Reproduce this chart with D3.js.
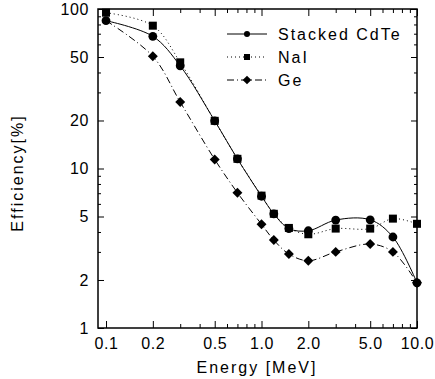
<!DOCTYPE html>
<html>
<head>
<meta charset="utf-8">
<script src="https://cdn.jsdelivr.net/npm/d3@7"></script>
<style>
  body { margin: 0; background: #fff; }
  svg { display: block; font-family: "Liberation Sans", Arial, sans-serif; }
  .tick text { font-size: 16px; letter-spacing: 0.6px; fill: #000; }
  .domain { display: none; }
</style>
</head>
<body>
<svg id="chart" width="435" height="379"></svg>
<script>
// Data
const energy = [0.1, 0.2, 0.3, 0.5, 0.7, 1.0, 1.2, 1.5, 2.0, 3.0, 5.0, 7.0, 10.0];
const cdte = [84.5, 67.4, 44, 19.9, 11.5, 6.7, 5.2, 4.2, 4.07, 4.75, 4.77, 3.72, 1.92];
const nai = [94.8, 78.6, 46.3, 19.9, 11.5, 6.76, 5.2, 4.24, 3.87, 4.2, 4.2, 4.85, 4.5];
const ge = [84.5, 50.5, 26.1, 11.4, 7.05, 4.47, 3.56, 2.91, 2.64, 3.0, 3.36, 3.0, 1.92];
const geMarkerFrom = 1; // Ge marker at 0.1 sits under the CdTe circle

const xMajor = [0.1, 0.2, 0.5, 1, 2, 5, 10];
const xMinor = [0.3, 0.4, 0.6, 0.7, 0.8, 0.9, 3, 4, 6, 7, 8, 9];
const yMajor = [1, 2, 5, 10, 20, 50, 100];
const yMinor = [3, 4, 6, 7, 8, 9, 30, 40, 60, 70, 80, 90];

const series = [
  { name: 'Stacked CdTe', values: cdte, dash: null, marker: 'circle' },
  { name: 'NaI', values: nai, dash: '1,3', marker: 'square' },
  { name: 'Ge', values: ge, dash: '7,3,1,3', marker: 'diamond' },
];

const svg = d3.select('#chart');
const pL = 98, pR = 417, pT = 9, pB = 328;

const x = d3.scaleLog().domain([0.0888, 10]).range([pL, pR]);
const y = d3.scaleLog().domain([1, 100]).range([pB, pT]);

// markers
const marker = (g, type, cx, cy, s) => {
  if (type === 'circle') {
    g.append('circle').attr('cx', cx).attr('cy', cy).attr('r', s * 0.55).attr('fill', '#000');
  } else if (type === 'square') {
    const h = s * 0.5;
    g.append('rect').attr('x', cx - h).attr('y', cy - h).attr('width', 2 * h).attr('height', 2 * h).attr('fill', '#000');
  } else {
    const h = s * 0.62;
    g.append('path').attr('d', `M${cx},${cy - h}L${cx + h},${cy}L${cx},${cy + h}L${cx - h},${cy}Z`).attr('fill', '#000');
  }
};

// axes: ticks point inward on all four sides
const fmtX = d => d < 1 ? String(d) : d3.format('.1f')(d);

svg.append('g').attr('transform', `translate(0,${pB})`)
  .call(d3.axisBottom(x).tickValues(xMajor).tickSize(-7).tickPadding(10).tickFormat(fmtX));
svg.append('g').attr('transform', `translate(0,${pB})`)
  .call(d3.axisBottom(x).tickValues(xMinor).tickSize(-4).tickFormat(''));
svg.append('g').attr('transform', `translate(0,${pT})`)
  .call(d3.axisTop(x).tickValues(xMajor).tickSize(-7).tickFormat(''));
svg.append('g').attr('transform', `translate(0,${pT})`)
  .call(d3.axisTop(x).tickValues(xMinor).tickSize(-4).tickFormat(''));

svg.append('g').attr('transform', `translate(${pL},0)`)
  .call(d3.axisLeft(y).tickValues(yMajor).tickSize(-6).tickPadding(9).tickFormat(d3.format('d')));
svg.append('g').attr('transform', `translate(${pL},0)`)
  .call(d3.axisLeft(y).tickValues(yMinor).tickSize(-3).tickFormat(''));
svg.append('g').attr('transform', `translate(${pR},0)`)
  .call(d3.axisRight(y).tickValues(yMajor).tickSize(-6).tickFormat(''));
svg.append('g').attr('transform', `translate(${pR},0)`)
  .call(d3.axisRight(y).tickValues(yMinor).tickSize(-3).tickFormat(''));

svg.selectAll('.tick line').attr('stroke', '#000').attr('stroke-width', 1);

// frame
svg.append('rect')
  .attr('x', pL).attr('y', pT).attr('width', pR - pL).attr('height', pB - pT)
  .attr('fill', 'none').attr('stroke', '#000').attr('stroke-width', 1.5);

// curves
const line = d3.line()
  .x(d => x(d[0])).y(d => y(d[1]))
  .curve(d3.curveCatmullRom.alpha(0.5));

const plot = svg.append('g');
series.forEach(s => {
  const pts = energy.map((e, i) => [e, s.values[i]]);
  plot.append('path')
    .attr('d', line(pts))
    .attr('fill', 'none').attr('stroke', '#000').attr('stroke-width', 1)
    .attr('stroke-dasharray', s.dash);
});
series.forEach(s => {
  energy.forEach((e, i) => {
    if (s.marker === 'diamond' && i < geMarkerFrom) return;
    marker(plot, s.marker, x(e), y(s.values[i]), 8);
  });
});

// legend
const leg = svg.append('g');
series.forEach((s, i) => {
  const ly = 34 + i * 23;
  leg.append('line').attr('x1', 227).attr('x2', 267).attr('y1', ly).attr('y2', ly)
    .attr('stroke', '#000').attr('stroke-width', 1).attr('stroke-dasharray', s.dash);
  marker(leg, s.marker, 247, ly, s.marker === 'circle' ? 5.5 : s.marker === 'square' ? 6 : 7);
  leg.append('text').attr('x', 278).attr('y', ly + 6)
    .attr('font-size', 16).attr('letter-spacing', 2).text(s.name);
});

// axis titles
svg.append('text').attr('x', 257).attr('y', 373).attr('text-anchor', 'middle')
  .attr('font-size', 16).attr('letter-spacing', 2).text('Energy [MeV]');
svg.append('text').attr('transform', 'translate(23,173) rotate(-90)').attr('text-anchor', 'middle')
  .attr('font-size', 16).attr('letter-spacing', 2).text('Efficiency[%]');
</script>
</body>
</html>
